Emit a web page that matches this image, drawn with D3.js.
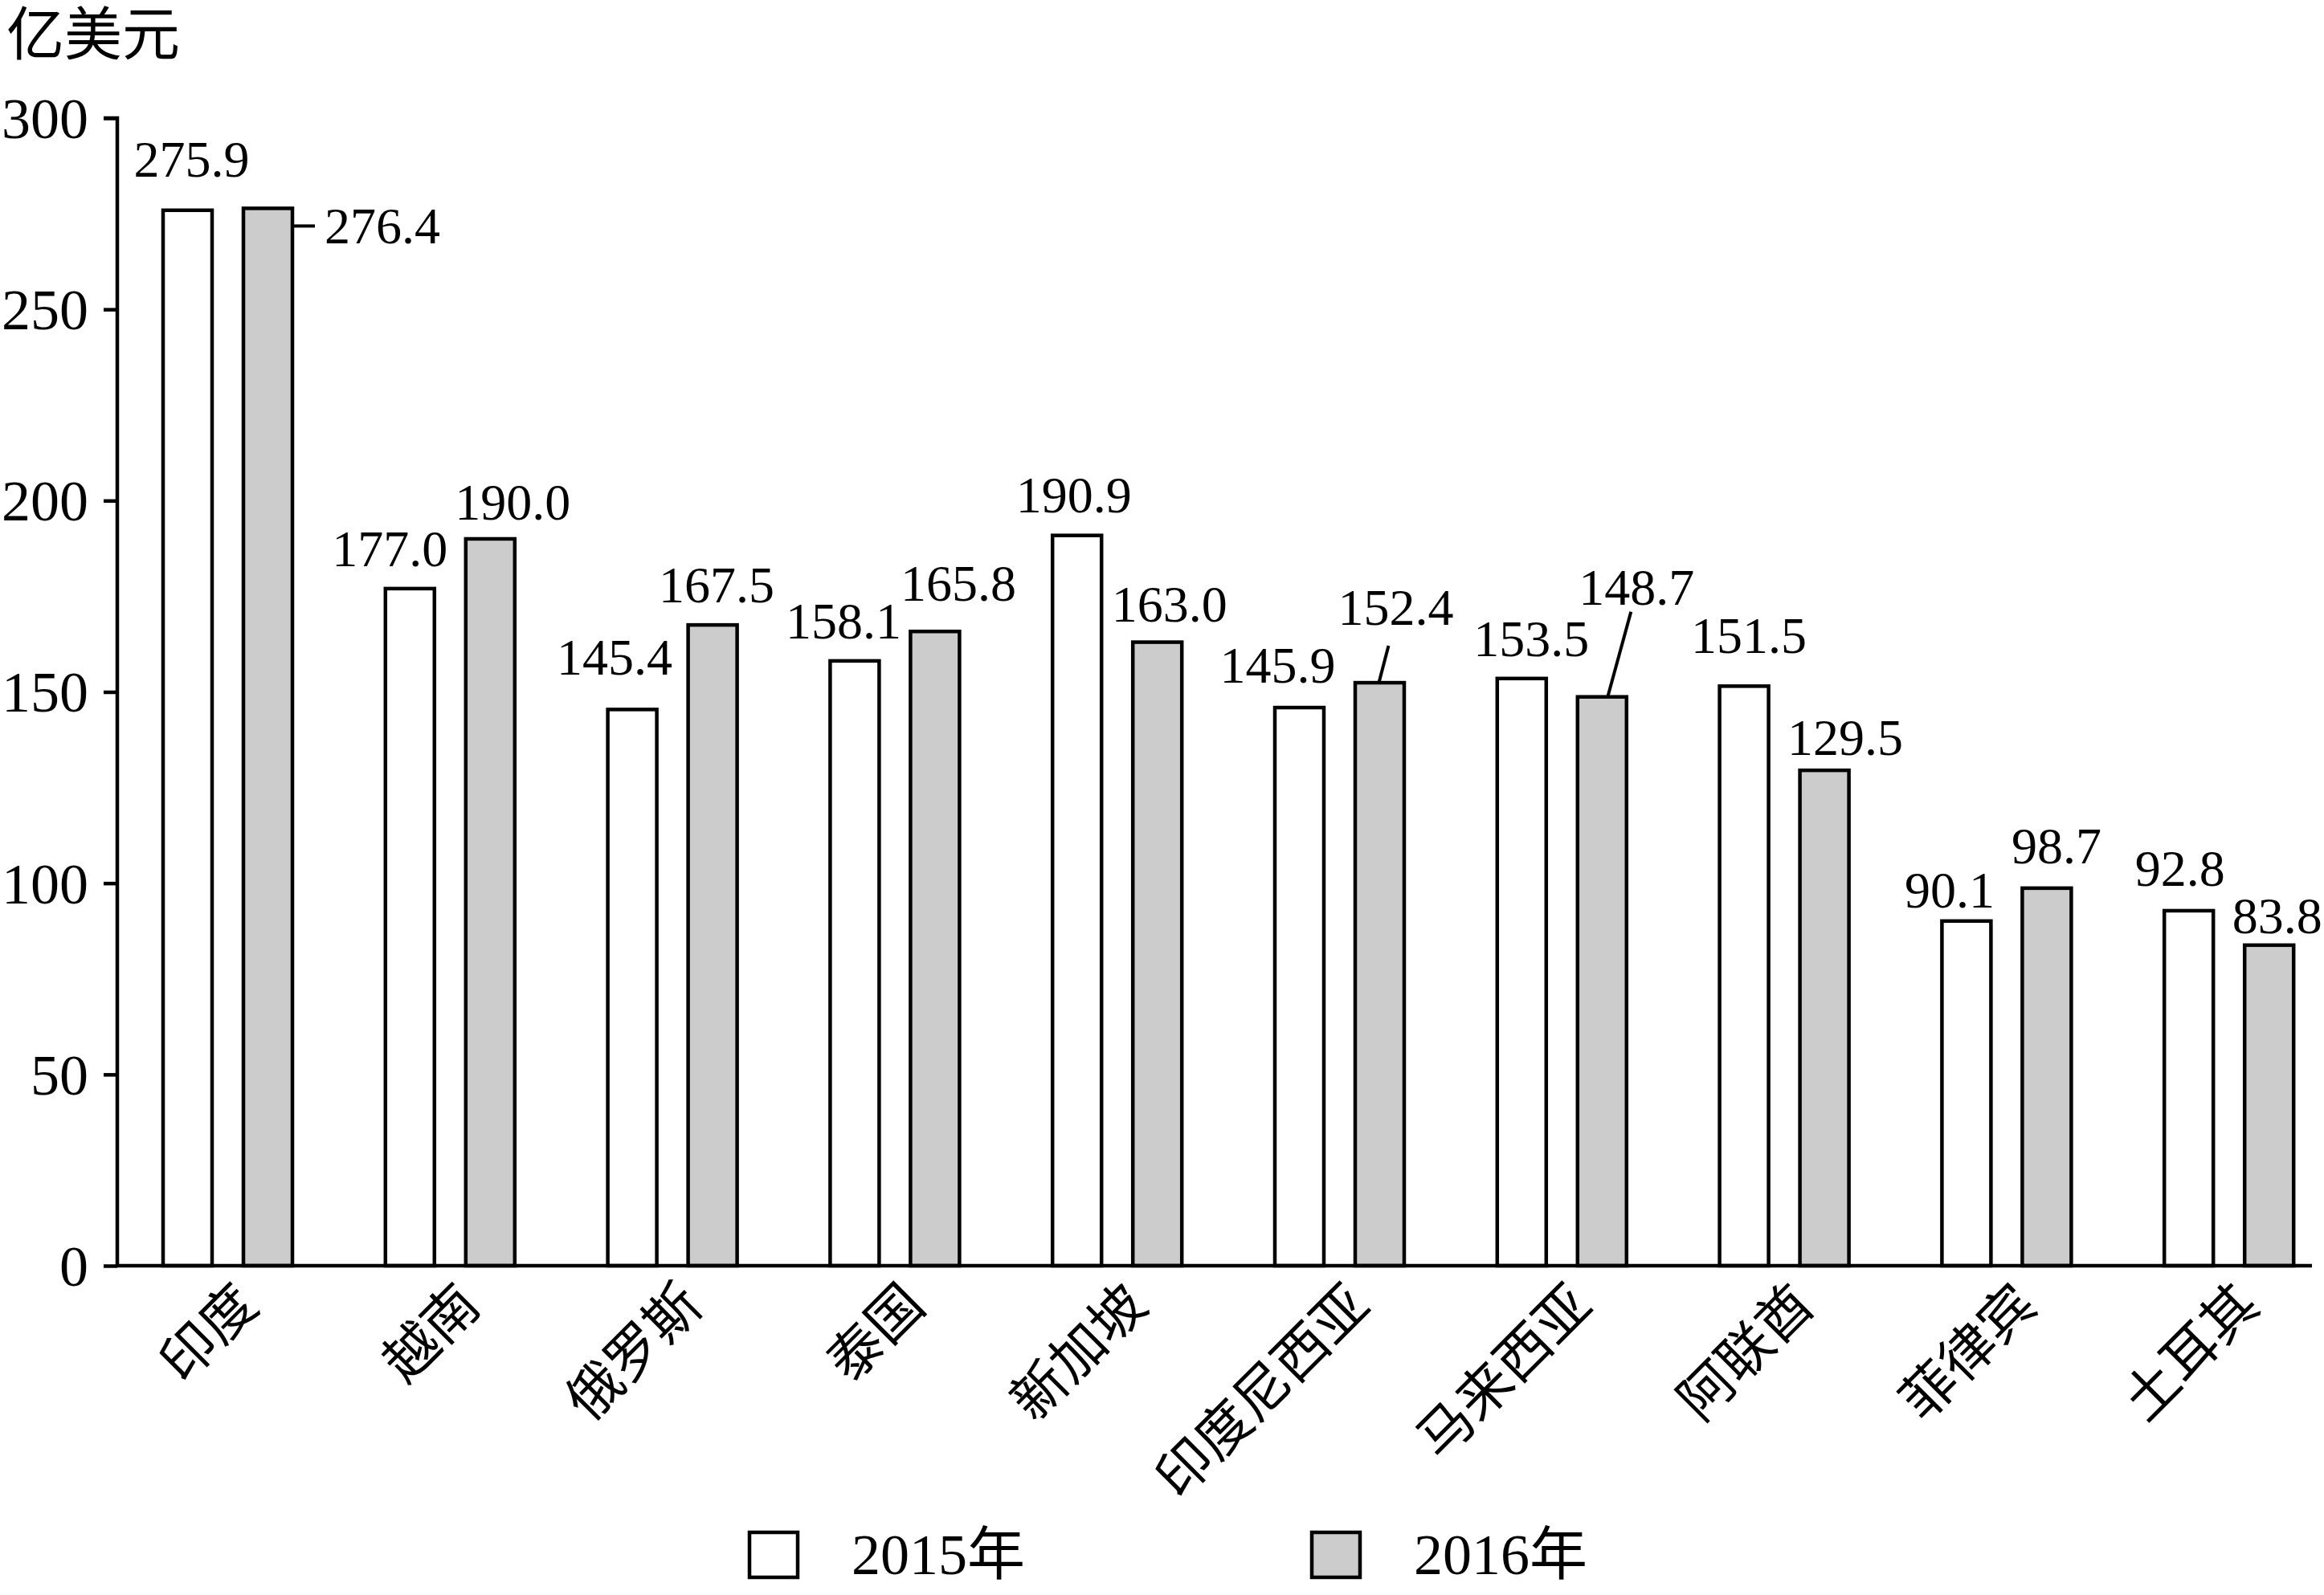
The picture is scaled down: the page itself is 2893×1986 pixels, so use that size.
<!DOCTYPE html>
<html>
<head>
<meta charset="utf-8">
<script src="https://cdn.jsdelivr.net/npm/d3@7"></script>
<style>
  body { margin: 0; background: #fff; }
  text { font-family: "Liberation Serif", "Noto Sans CJK SC", serif; fill: #000; }
</style>
</head>
<body>
<svg class="chart"></svg>
<script>
var categories = ["印度", "越南", "俄罗斯", "泰国", "新加坡", "印度尼西亚", "马来西亚", "阿联酋", "菲律宾", "土耳其"];
var seriesNames = ["2015年", "2016年"];
var values2015 = [275.9, 177.0, 145.4, 158.1, 190.9, 145.9, 153.5, 151.5, 90.1, 92.8];
var values2016 = [276.4, 190.0, 167.5, 165.8, 163.0, 152.4, 148.7, 129.5, 98.7, 83.8];
var yTicks = [0, 50, 100, 150, 200, 250, 300];
var unitLabel = "亿美元";

// label nudges (layout only): x shift from bar centre, gap from bar top to baseline
var nudge2015 = [[5, 42], [-25, 28], [-22, 43], [-14, 28], [-4, 29], [-27, 31], [12, 28], [6, 41], [-21, 17], [-11, 31]];
var nudge2016 = [[0, 0], [28, 24], [5, 28], [29, 38], [15, 26], [20, 72], [43, 115], [26, 19], [12, 31], [10, 15]];

var W = 2893, H = 1986;
var plotLeft = 146, plotTop = 147, plotBottom = 1576, axisEnd = 2878;
var step = 276.8;

var svg = d3.select(".chart").attr("width", W).attr("height", H);

var x = d3.scaleBand()
    .domain(categories)
    .range([plotLeft, plotLeft + step * categories.length])
    .padding(0);

var inner = d3.scaleOrdinal()
    .domain(seriesNames)
    .range([57, 157]);
var barW = 61;

var y = d3.scaleLinear().domain([0, 300]).range([plotBottom, plotTop]);

var fills = ["#ffffff", "#cccccc"];
var rows = categories.map(function(c, i) { return { cat: c, i: i, vals: [values2015[i], values2016[i]] }; });

// y axis
var yAxis = d3.axisLeft(y).tickValues(yTicks).tickSize(17).tickPadding(20).tickFormat(d3.format("d"));
var yg = svg.append("g").attr("transform", "translate(" + plotLeft + ",0)").call(yAxis);
yg.select(".domain").attr("stroke", "#000").attr("stroke-width", 4.5).attr("d", "M-17," + plotTop + "H0V" + plotBottom);
yg.selectAll(".tick line").attr("stroke", "#000").attr("stroke-width", 4.5);
yg.selectAll(".tick text")
    .attr("font-size", 72)
    .attr("font-family", "Liberation Serif")
    .attr("fill", "#000")
    .attr("dy", "0.34em")
    .attr("x", -36);

svg.append("text")
    .attr("x", 8)
    .attr("y", 68)
    .attr("font-size", 72)
    .attr("font-family", "Noto Sans CJK SC")
    .text(unitLabel);

// bars
var groups = svg.selectAll(".grp").data(rows);
var gEnter = groups.enter().append("g")
    .attr("class", "grp")
    .attr("transform", function(d) { return "translate(" + x(d.cat) + ",0)"; });

gEnter.selectAll(".bar")
  .data(function(d) { return d.vals.map(function(v, k) { return { v: v, k: k, i: d.i }; }); })
  .enter().append("rect")
    .attr("class", "bar")
    .attr("x", function(d) { return inner(seriesNames[d.k]); })
    .attr("y", function(d) { return y(d.v); })
    .attr("width", barW)
    .attr("height", function(d) { return plotBottom - y(d.v); })
    .attr("fill", function(d) { return fills[d.k]; })
    .attr("stroke", "#000")
    .attr("stroke-width", 4.5);

// x axis line
svg.append("line")
    .attr("x1", plotLeft).attr("x2", axisEnd)
    .attr("y1", plotBottom).attr("y2", plotBottom)
    .attr("stroke", "#000").attr("stroke-width", 4.5);

// value labels
function barCx(i, k) { return x(categories[i]) + inner(seriesNames[k]) + barW / 2; }

var labelData = [];
values2015.forEach(function(v, i) { labelData.push({ v: v, i: i, k: 0, n: nudge2015[i] }); });
values2016.forEach(function(v, i) { if (i > 0) labelData.push({ v: v, i: i, k: 1, n: nudge2016[i] }); });

svg.selectAll(".vlabel").data(labelData).enter().append("text")
    .attr("class", "vlabel")
    .attr("font-size", 64)
    .attr("text-anchor", "middle")
    .attr("x", function(d) { return barCx(d.i, d.k) + d.n[0]; })
    .attr("y", function(d) { return y(d.v) - d.n[1]; })
    .text(function(d) { return d3.format(".1f")(d.v); });

// India 2016 label to the right with a short leader
var ix = barCx(0, 1) + barW / 2;
var iy = y(values2016[0]) + 22;
svg.append("line").attr("x1", ix).attr("x2", ix + 28).attr("y1", iy).attr("y2", iy)
    .attr("stroke", "#000").attr("stroke-width", 4);
svg.append("text")
    .attr("font-size", 64)
    .attr("x", ix + 40)
    .attr("y", iy + 22)
    .text(d3.format(".1f")(values2016[0]));

// leaders for Indonesia and Malaysia 2016
var leaders = [[5, -1, 11, 46], [6, 7, 36, 106]];
svg.selectAll(".leader").data(leaders).enter().append("line")
    .attr("class", "leader")
    .attr("x1", function(d) { return barCx(d[0], 1) + d[1]; })
    .attr("y1", function(d) { return y(values2016[d[0]]); })
    .attr("x2", function(d) { return barCx(d[0], 1) + d[2]; })
    .attr("y2", function(d) { return y(values2016[d[0]]) - d[3]; })
    .attr("stroke", "#000").attr("stroke-width", 4);

// category labels
svg.selectAll(".cat").data(categories).enter().append("text")
    .attr("class", "cat")
    .attr("font-size", 68)
    .attr("font-family", "Noto Sans CJK SC")
    .attr("text-anchor", "end")
    .attr("dy", "0.88em")
    .attr("transform", function(d) {
      return "translate(" + (x(d) + 138 - 2) + "," + (plotBottom + 10) + ") rotate(-45)";
    })
    .text(function(d) { return d; });

// legend
var legend = svg.selectAll(".leg").data(seriesNames).enter().append("g")
    .attr("class", "leg")
    .attr("transform", function(d, i) { return "translate(" + (933 + i * 700) + ",1908)"; });
legend.append("rect")
    .attr("width", 60).attr("height", 56)
    .attr("fill", function(d, i) { return fills[i]; })
    .attr("stroke", "#000").attr("stroke-width", 4.5);
legend.append("text")
    .attr("x", 127)
    .attr("y", 52)
    .attr("font-size", 72)
    .text(function(d) { return d; });
</script>
</body>
</html>
